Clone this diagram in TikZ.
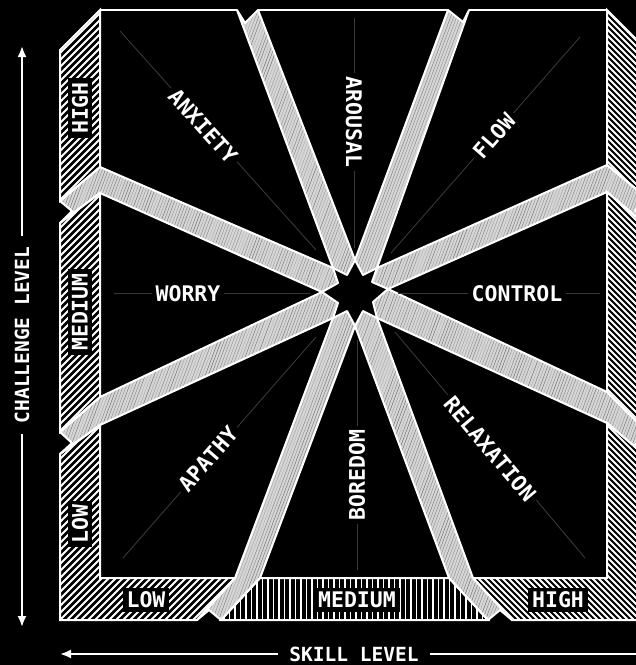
\documentclass[tikz,border=0pt]{standalone}
\usepackage{fontspec}
\newfontfamily\monofont{DejaVu Sans Mono}
\usetikzlibrary{arrows.meta}

\newcommand\lblfont{\monofont\bfseries\fontsize{21.5}{24}\selectfont}
\newcommand\axisfont{\monofont\bfseries\fontsize{19.5}{22}\selectfont}

\begin{document}
\begin{tikzpicture}[x=1pt, y=-1pt,
    band/.style={fill=black!16, draw=white, line width=2pt, line join=round,
      path picture={\foreach \k in {-200,-197,...,660}{
        \pgfmathsetmacro\shade{28+30*rnd}
        \draw[black!\shade, line width=0.5pt] (\k,640) -- ++(240,-640);}}},
    strip/.style={draw=white, line width=2pt, line join=miter},
    hatchup/.style={strip, path picture={\foreach \k in {-660,-653,...,660}
        \draw[white, line width=2pt] (\k,640) -- ++(660,-660);}},
    hatchdown/.style={strip, path picture={\foreach \k in {-660,-654,...,660}
        \draw[white, line width=2pt] (\k,-20) -- ++(660,660);}},
    hatchvert/.style={strip, path picture={\foreach \k in {180,185.5,...,520}
        \draw[white, line width=1.8pt] (\k,570) -- (\k,630);}},
    guide/.style={draw=white!22!black, line width=0.9pt},
    lbl/.style={font=\lblfont, text=white, fill=black, inner sep=4pt},
    axislbl/.style={font=\axisfont, text=white, inner xsep=11pt, inner ysep=2pt},
    axisarrow/.style={draw=white, line width=2pt, -{Latex[length=11pt, width=9pt]}}]

  \pgfmathsetseed{7}
  \useasboundingbox (0,0) rectangle (636,665);
  \fill[black] (0,0) rectangle (636,665);
  \clip (0,0) rectangle (636,665);

  % Bands between the zones
  \path[band] (237,10) -- (245,23) -- (258,10) -- (355,260) -- (347,275) -- (333,268) -- cycle;
  \path[band] (448,10) -- (463,22) -- (469,10) -- (377,268) -- (363,275) -- (355,260) -- cycle;
  \path[band] (607,165) -- (647,198) -- (635,210) -- (647,226) -- (607,192)
    -- (388,289) -- (372,282) -- (377,268) -- cycle;
  \path[band] (607,392) -- (647,432) -- (635,445) -- (647,457) -- (607,423)
    -- (377,318) -- (373,302) -- (388,289) -- cycle;
  \path[band] (449,578) -- (488,620) -- (500,610) -- (512,620) -- (473,578)
    -- (377,318) -- (363,311) -- (355,326) -- cycle;
  \path[band] (235,578) -- (197,620) -- (209,610) -- (221,620) -- (260,578)
    -- (355,326) -- (347,311) -- (333,318) -- cycle;
  \path[band] (100,397) -- (322,292) -- (338,303) -- (333,318) -- (100,425)
    -- (60,454) -- (72,443) -- (60,432) -- cycle;
  \path[band] (100,167) -- (333,268) -- (338,283) -- (322,292) -- (100,193)
    -- (60,223) -- (72,211) -- (60,201) -- cycle;

  % Frame strips
  \path[hatchup] (100,10) -- (60,50) -- (60,201) -- (100,167) -- cycle;
  \path[hatchup] (100,193) -- (60,223) -- (60,432) -- (100,397) -- cycle;
  \path[hatchup] (100,425) -- (60,454) -- (60,620) -- (197,620) -- (235,578) -- (100,578) -- cycle;
  \path[hatchvert] (260,578) -- (221,620) -- (488,620) -- (449,578) -- cycle;
  \path[hatchdown] (473,578) -- (512,620) -- (647,620) -- (647,457) -- (607,423) -- (607,578) -- cycle;
  \path[hatchdown] (607,192) -- (647,226) -- (647,432) -- (607,392) -- cycle;
  \path[hatchdown] (607,10) -- (647,50) -- (647,198) -- (607,165) -- cycle;
  \draw[strip] (100,10) -- (237,10) (258,10) -- (448,10) (469,10) -- (607,10);

  % Guide lines
  \draw[guide] (120,31) -- (316,250);
  \draw[guide] (354,18) -- (354,248);
  \draw[guide] (391,253) -- (580,37);
  \draw[guide] (114,293) -- (310,293);
  \draw[guide] (398,293) -- (600,293);
  \draw[guide] (123,558) -- (316,337);
  \draw[guide] (357,340) -- (357,570);
  \draw[guide] (395,332) -- (585,558);

  % Zones
  \node[lbl, rotate=-48] (anxiety) at (203,126) {ANXIETY};
  \node[lbl, rotate=-90] (arousal) at (354,122) {AROUSAL};
  \node[lbl, rotate=49] (flow) at (494,136) {FLOW};
  \node[lbl] (worry) at (188,294) {WORRY};
  \node[lbl] (control) at (517,294) {CONTROL};
  \node[lbl, rotate=49] (apathy) at (208,459) {APATHY};
  \node[lbl, rotate=90] (boredom) at (357,475) {BOREDOM};
  \node[lbl, rotate=-50] (relaxation) at (490,449) {RELAXATION};

  % Levels on the frame
  \node[lbl, rotate=90] (chalhigh) at (80,108) {HIGH};
  \node[lbl, rotate=90] (chalmed) at (80,312) {MEDIUM};
  \node[lbl, rotate=90] (challow) at (80,524) {LOW};
  \node[lbl] (skilllow) at (146,600) {LOW};
  \node[lbl] (skillmed) at (357,600) {MEDIUM};
  \node[lbl] (skillhigh) at (558,600) {HIGH};

  % Axes
  \node[axislbl, rotate=90] (chal) at (22,335) {CHALLENGE LEVEL};
  \coordinate (chaltop) at (22,46);
  \coordinate (chalbot) at (22,627);
  \draw[axisarrow] (chal.east) -- (chaltop);
  \draw[axisarrow] (chal.west) -- (chalbot);
  \node[axislbl] (skill) at (354,654) {SKILL LEVEL};
  \coordinate (skillleft) at (60,654);
  \coordinate (skillright) at (652,654);
  \draw[axisarrow] (skill.west) -- (skillleft);
  \draw[axisarrow] (skill.east) -- (skillright);
\end{tikzpicture}
\end{document}
